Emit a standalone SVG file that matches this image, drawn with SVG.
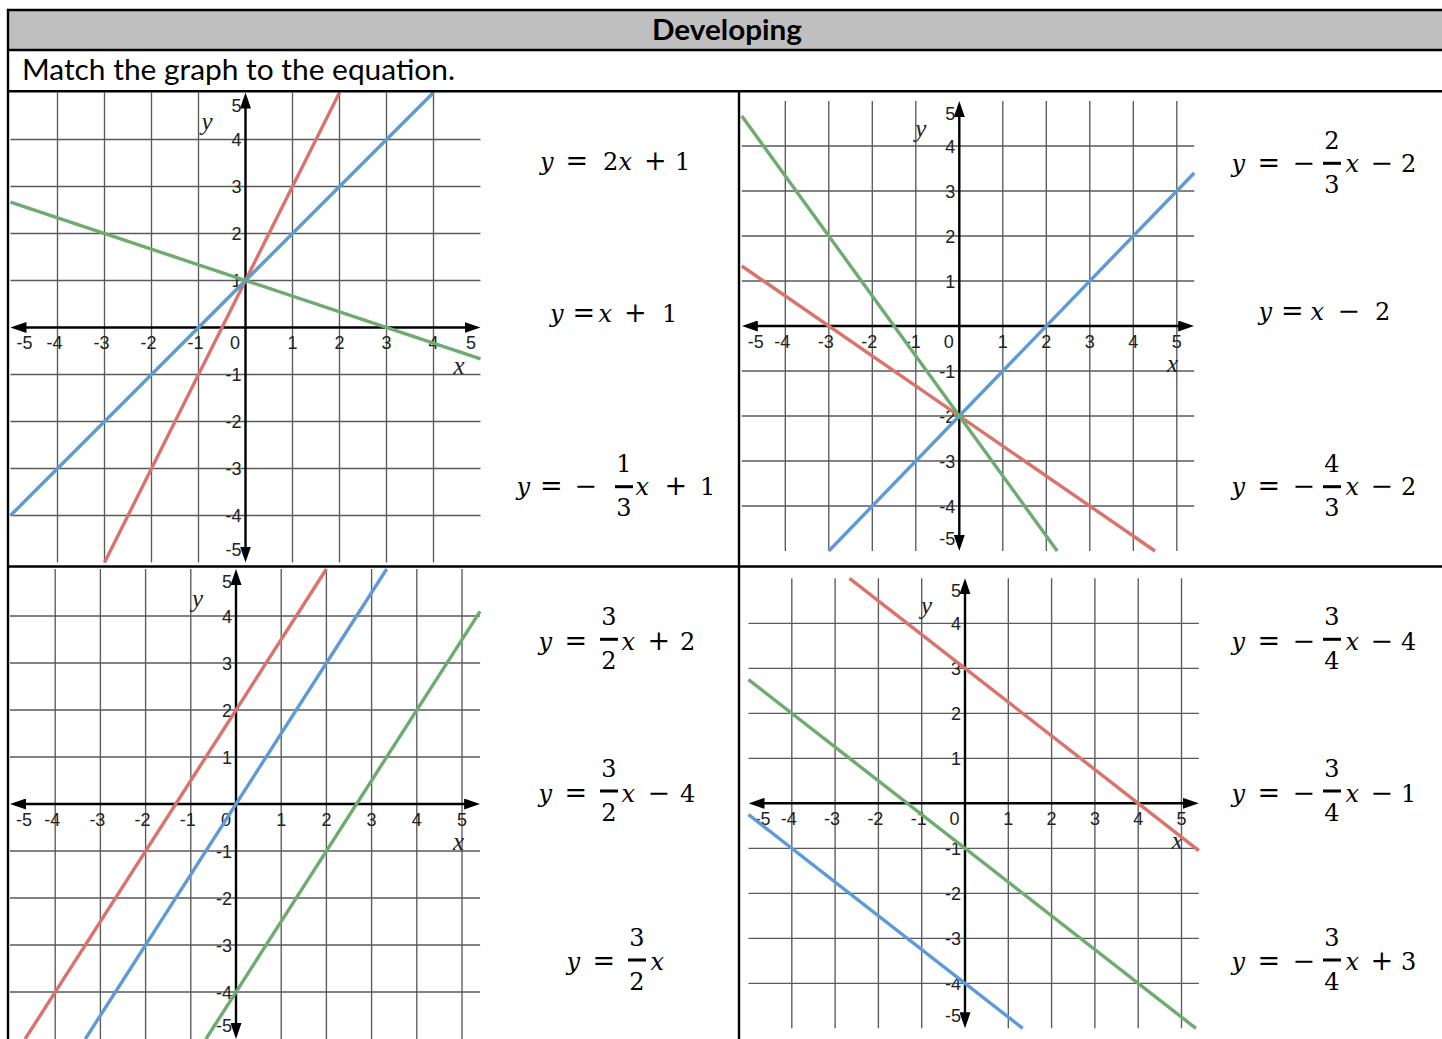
<svg xmlns="http://www.w3.org/2000/svg" width="1442" height="1039" viewBox="0 0 1442 1039">
<style>
.grid{fill:none;stroke:#5a5a5a;stroke-width:1.35}
.axis{fill:none;stroke:#000;stroke-width:2.4;marker-start:url(#ah);marker-end:url(#ah)}
.tk{font-family:"Liberation Sans",Arial,sans-serif;font-size:18px;fill:#222}
.e{text-anchor:end}
.mid{text-anchor:middle}
.al{font-family:"Liberation Serif","Times New Roman",serif;font-style:italic;font-size:25px;fill:#222}
.ln{fill:none;stroke-width:3.4}
.red{stroke:#d9736c}
.blue{stroke:#5e9bd6}
.green{stroke:#6cad6f}
.m{font-family:"DejaVu Serif","Liberation Serif",serif;font-size:24px;fill:#000}
.i{font-style:italic}
.op{font-size:27px}
.fr{text-anchor:middle}
.tbl{stroke:#000;stroke-width:2.4;fill:none}
.hd{font-family:Lato,"Liberation Sans",sans-serif;font-size:28px;fill:#000}
</style>
<defs>
<marker id="ah" viewBox="0 0 16 11" markerWidth="16" markerHeight="11" refX="8" refY="5.5" orient="auto-start-reverse" markerUnits="userSpaceOnUse"><path d="M0 0L16 5.5L0 11z" fill="#000"/></marker>
</defs>
<rect x="0" y="0" width="1442" height="1039" fill="#fff"/>
<g id="header">
<rect x="8" y="10" width="1434" height="40" fill="#bfbfbf"/>
<text class="hd" x="652" y="40" font-weight="bold" textLength="150" lengthAdjust="spacingAndGlyphs">Developing</text>
<text class="hd" x="22" y="80" textLength="433" lengthAdjust="spacingAndGlyphs">Match the graph to the equation.</text>
</g>

<g id="graph1">
<path class="grid" d="M57.5 92.5V562.5M104.5 92.5V562.5M151.5 92.5V562.5M198.5 92.5V562.5M292.5 92.5V562.5M339.5 92.5V562.5M386.5 92.5V562.5M433.5 92.5V562.5M10.5 139.5H480.5M10.5 186.5H480.5M10.5 233.5H480.5M10.5 280.5H480.5M10.5 374.5H480.5M10.5 421.5H480.5M10.5 468.5H480.5M10.5 515.5H480.5"/>
<path class="axis" d="M18.5 327.5H472.5"/>
<path class="axis" d="M245.5 100.5V554.5"/>
<text class="tk" x="16.5" y="349">-5</text>
<text class="tk e" x="62.5" y="349">-4</text>
<text class="tk e" x="109.5" y="349">-3</text>
<text class="tk e" x="156.5" y="349">-2</text>
<text class="tk e" x="203.5" y="349">-1</text>
<text class="tk mid" x="235" y="349">0</text>
<text class="tk mid" x="292.5" y="349">1</text>
<text class="tk mid" x="339.5" y="349">2</text>
<text class="tk mid" x="386.5" y="349">3</text>
<text class="tk mid" x="433.5" y="349">4</text>
<text class="tk mid" x="471" y="349">5</text>
<text class="tk e" x="241.5" y="111.5">5</text>
<text class="tk e" x="241.5" y="146">4</text>
<text class="tk e" x="241.5" y="193">3</text>
<text class="tk e" x="241.5" y="240">2</text>
<text class="tk e" x="241.5" y="287">1</text>
<text class="tk e" x="241.5" y="381">-1</text>
<text class="tk e" x="241.5" y="428">-2</text>
<text class="tk e" x="241.5" y="475">-3</text>
<text class="tk e" x="241.5" y="522">-4</text>
<text class="tk e" x="241.5" y="556">-5</text>
<text class="al" x="201.5" y="130">y</text>
<text class="al e" x="464.5" y="373.5">x</text>
<path class="ln red" d="M104.5 562.5L339.5 92.5"/>
<path class="ln blue" d="M10.5 515.5L433.5 92.5"/>
<path class="ln green" d="M10.5 202.2L480.5 358.8"/>
</g>

<g id="graph2">
<path class="grid" d="M785.3 101V551M828.8 101V551M872.3 101V551M915.8 101V551M1002.8 101V551M1046.3 101V551M1089.8 101V551M1133.3 101V551M1176.8 101V551M741.8 146H1194.2M741.8 191H1194.2M741.8 236H1194.2M741.8 281H1194.2M741.8 371H1194.2M741.8 416H1194.2M741.8 461H1194.2M741.8 506H1194.2"/>
<path class="axis" d="M749.8 326H1186.2"/>
<path class="axis" d="M959.3 109V543"/>
<text class="tk" x="747.8" y="347.5">-5</text>
<text class="tk e" x="790.3" y="347.5">-4</text>
<text class="tk e" x="833.8" y="347.5">-3</text>
<text class="tk e" x="877.3" y="347.5">-2</text>
<text class="tk e" x="920.8" y="347.5">-1</text>
<text class="tk mid" x="948.8" y="347.5">0</text>
<text class="tk mid" x="1002.8" y="347.5">1</text>
<text class="tk mid" x="1046.3" y="347.5">2</text>
<text class="tk mid" x="1089.8" y="347.5">3</text>
<text class="tk mid" x="1133.3" y="347.5">4</text>
<text class="tk mid" x="1176.8" y="347.5">5</text>
<text class="tk e" x="955.3" y="120">5</text>
<text class="tk e" x="955.3" y="152.5">4</text>
<text class="tk e" x="955.3" y="197.5">3</text>
<text class="tk e" x="955.3" y="242.5">2</text>
<text class="tk e" x="955.3" y="287.5">1</text>
<text class="tk e" x="955.3" y="377.5">-1</text>
<text class="tk e" x="955.3" y="422.5">-2</text>
<text class="tk e" x="955.3" y="467.5">-3</text>
<text class="tk e" x="955.3" y="512.5">-4</text>
<text class="tk e" x="955.3" y="544.5">-5</text>
<text class="al" x="915.3" y="137">y</text>
<text class="al e" x="1178.2" y="372">x</text>
<path class="ln blue" d="M828.8 551L1194.2 173"/>
<path class="ln red" d="M741.8 266L1155 551"/>
<path class="ln green" d="M741.8 116L1057.2 551"/>
</g>

<g id="graph3">
<path class="grid" d="M55.2 569V1039M100.4 569V1039M145.6 569V1039M190.8 569V1039M281.2 569V1039M326.4 569V1039M371.6 569V1039M416.8 569V1039M462 569V1039M10 616H480.1M10 663H480.1M10 710H480.1M10 757H480.1M10 851H480.1M10 898H480.1M10 945H480.1M10 992H480.1"/>
<path class="axis" d="M18 804H472.1"/>
<path class="axis" d="M236 577V1031"/>
<text class="tk" x="16" y="825.5">-5</text>
<text class="tk e" x="60.2" y="825.5">-4</text>
<text class="tk e" x="105.4" y="825.5">-3</text>
<text class="tk e" x="150.6" y="825.5">-2</text>
<text class="tk e" x="195.8" y="825.5">-1</text>
<text class="tk mid" x="226" y="825.5">0</text>
<text class="tk mid" x="281.2" y="825.5">1</text>
<text class="tk mid" x="326.4" y="825.5">2</text>
<text class="tk mid" x="371.6" y="825.5">3</text>
<text class="tk mid" x="416.8" y="825.5">4</text>
<text class="tk mid" x="462" y="825.5">5</text>
<text class="tk e" x="232" y="588">5</text>
<text class="tk e" x="232" y="622.5">4</text>
<text class="tk e" x="232" y="669.5">3</text>
<text class="tk e" x="232" y="716.5">2</text>
<text class="tk e" x="232" y="763.5">1</text>
<text class="tk e" x="232" y="857.5">-1</text>
<text class="tk e" x="232" y="904.5">-2</text>
<text class="tk e" x="232" y="951.5">-3</text>
<text class="tk e" x="232" y="998.5">-4</text>
<text class="tk e" x="232" y="1032">-5</text>
<text class="al" x="192" y="606.6">y</text>
<text class="al e" x="464" y="850">x</text>
<path class="ln red" d="M25.1 1039L326.4 569"/>
<path class="ln blue" d="M85.3 1039L386.7 569"/>
<path class="ln green" d="M205.9 1039L480.1 611.3"/>
</g>

<g id="graph4">
<path class="grid" d="M791.8 578.3V1028.3M835.1 578.3V1028.3M878.4 578.3V1028.3M921.7 578.3V1028.3M1008.3 578.3V1028.3M1051.6 578.3V1028.3M1094.9 578.3V1028.3M1138.2 578.3V1028.3M1181.5 578.3V1028.3M748.5 623.3H1198.8M748.5 668.3H1198.8M748.5 713.3H1198.8M748.5 758.3H1198.8M748.5 848.3H1198.8M748.5 893.3H1198.8M748.5 938.3H1198.8M748.5 983.3H1198.8"/>
<path class="axis" d="M756.5 803.3H1190.8"/>
<path class="axis" d="M965 586.3V1020.3"/>
<text class="tk" x="754.5" y="824.8">-5</text>
<text class="tk e" x="796.8" y="824.8">-4</text>
<text class="tk e" x="840.1" y="824.8">-3</text>
<text class="tk e" x="883.4" y="824.8">-2</text>
<text class="tk e" x="926.7" y="824.8">-1</text>
<text class="tk mid" x="954.5" y="824.8">0</text>
<text class="tk mid" x="1008.3" y="824.8">1</text>
<text class="tk mid" x="1051.6" y="824.8">2</text>
<text class="tk mid" x="1094.9" y="824.8">3</text>
<text class="tk mid" x="1138.2" y="824.8">4</text>
<text class="tk mid" x="1181.5" y="824.8">5</text>
<text class="tk e" x="961" y="597.3">5</text>
<text class="tk e" x="961" y="629.8">4</text>
<text class="tk e" x="961" y="674.8">3</text>
<text class="tk e" x="961" y="719.8">2</text>
<text class="tk e" x="961" y="764.8">1</text>
<text class="tk e" x="961" y="854.8">-1</text>
<text class="tk e" x="961" y="899.8">-2</text>
<text class="tk e" x="961" y="944.8">-3</text>
<text class="tk e" x="961" y="989.8">-4</text>
<text class="tk e" x="961" y="1021.8">-5</text>
<text class="al" x="921" y="614.3">y</text>
<text class="al e" x="1182.8" y="849.3">x</text>
<path class="ln red" d="M849.5 578.3L1198.8 850.55"/>
<path class="ln green" d="M748.5 679.55L1195.9 1028.3"/>
<path class="ln blue" d="M748.5 814.55L1022.7 1028.3"/>
</g>

<g id="equations1">
<text class="m" y="170"><tspan class="i" x="540">y</tspan><tspan class="op" x="565.5">=</tspan><tspan x="603">2</tspan><tspan class="i" x="618.5">x</tspan><tspan class="op" x="644">+</tspan><tspan x="675">1</tspan></text>
<text class="m" y="322"><tspan class="i" x="550">y</tspan><tspan class="op" x="572.5">=</tspan><tspan class="i" x="598.5">x</tspan><tspan class="op" x="624">+</tspan><tspan x="662">1</tspan></text>
<text class="m" y="495"><tspan class="i" x="516.5">y</tspan><tspan class="op" x="540">=</tspan><tspan class="op" x="574.5">−</tspan><tspan class="i" x="635.5">x</tspan><tspan class="op" x="664.5">+</tspan><tspan x="700">1</tspan></text>
<rect x="615" y="485.2" width="18" height="3"/>
<text class="m fr" x="624" y="472">1</text>
<text class="m fr" x="624" y="516">3</text>
</g>

<g id="equations2">
<text class="m" y="172"><tspan class="i" x="1231.5">y</tspan><tspan class="op" x="1257.5">=</tspan><tspan class="op" x="1292.5">−</tspan><tspan class="i" x="1345.5">x</tspan><tspan class="op" x="1370.5">−</tspan><tspan x="1401">2</tspan></text>
<rect x="1323" y="161.8" width="18" height="3"/>
<text class="m fr" x="1332" y="149">2</text>
<text class="m fr" x="1332" y="193">3</text>
<text class="m" y="320"><tspan class="i" x="1258.5">y</tspan><tspan class="op" x="1281">=</tspan><tspan class="i" x="1310.5">x</tspan><tspan class="op" x="1337.5">−</tspan><tspan x="1375">2</tspan></text>
<text class="m" y="495"><tspan class="i" x="1231.5">y</tspan><tspan class="op" x="1257.5">=</tspan><tspan class="op" x="1292.5">−</tspan><tspan class="i" x="1345.5">x</tspan><tspan class="op" x="1370.5">−</tspan><tspan x="1401">2</tspan></text>
<rect x="1323" y="485.2" width="18" height="3"/>
<text class="m fr" x="1332" y="472">4</text>
<text class="m fr" x="1332" y="516">3</text>
</g>

<g id="equations3">
<text class="m" y="650"><tspan class="i" x="538.5">y</tspan><tspan class="op" x="564.5">=</tspan><tspan class="i" x="621.5">x</tspan><tspan class="op" x="647.5">+</tspan><tspan x="680">2</tspan></text>
<rect x="600" y="637.8" width="18" height="3"/>
<text class="m fr" x="609" y="625">3</text>
<text class="m fr" x="609" y="669">2</text>
<text class="m" y="802"><tspan class="i" x="538.5">y</tspan><tspan class="op" x="564.5">=</tspan><tspan class="i" x="621.5">x</tspan><tspan class="op" x="647.5">−</tspan><tspan x="680">4</tspan></text>
<rect x="600" y="789.5" width="18" height="3"/>
<text class="m fr" x="609" y="777">3</text>
<text class="m fr" x="609" y="821">2</text>
<text class="m" y="970"><tspan class="i" x="566.5">y</tspan><tspan class="op" x="592.5">=</tspan><tspan class="i" x="650.5">x</tspan></text>
<rect x="628" y="958.5" width="18" height="3"/>
<text class="m fr" x="637" y="946">3</text>
<text class="m fr" x="637" y="990">2</text>
</g>

<g id="equations4">
<text class="m" y="650"><tspan class="i" x="1231.5">y</tspan><tspan class="op" x="1257.5">=</tspan><tspan class="op" x="1292.5">−</tspan><tspan class="i" x="1345.5">x</tspan><tspan class="op" x="1370.5">−</tspan><tspan x="1401">4</tspan></text>
<rect x="1323" y="637.8" width="18" height="3"/>
<text class="m fr" x="1332" y="625">3</text>
<text class="m fr" x="1332" y="669">4</text>
<text class="m" y="802"><tspan class="i" x="1231.5">y</tspan><tspan class="op" x="1257.5">=</tspan><tspan class="op" x="1292.5">−</tspan><tspan class="i" x="1345.5">x</tspan><tspan class="op" x="1370.5">−</tspan><tspan x="1401">1</tspan></text>
<rect x="1323" y="789.5" width="18" height="3"/>
<text class="m fr" x="1332" y="777">3</text>
<text class="m fr" x="1332" y="821">4</text>
<text class="m" y="970"><tspan class="i" x="1231.5">y</tspan><tspan class="op" x="1257.5">=</tspan><tspan class="op" x="1292.5">−</tspan><tspan class="i" x="1345.5">x</tspan><tspan class="op" x="1370.5">+</tspan><tspan x="1401">3</tspan></text>
<rect x="1323" y="958.5" width="18" height="3"/>
<text class="m fr" x="1332" y="946">3</text>
<text class="m fr" x="1332" y="990">4</text>
</g>

<g id="connectors"></g>

<g id="table">
<path class="tbl" d="M7 10H1442M8 50H1442M8 91.3H1442M8 566.5H1442M8 9V1039M739 91V1039"/>
</g>
</svg>
